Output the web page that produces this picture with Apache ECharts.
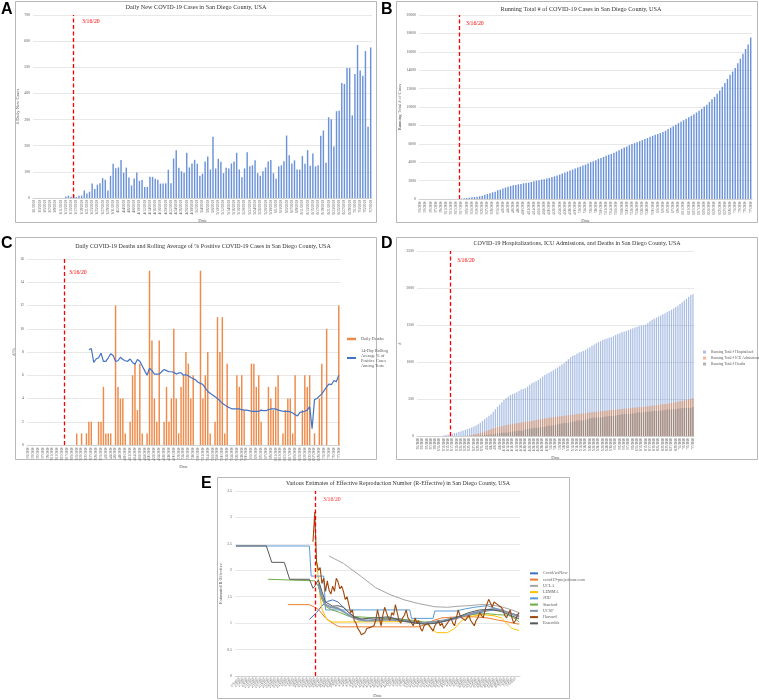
<!DOCTYPE html>
<html>
<head>
<meta charset="utf-8">
<script src="https://cdn.jsdelivr.net/npm/echarts/dist/echarts.min.js"></script>
<style>
  html, body { margin: 0; padding: 0; background: #fff; }
  #main { width: 759px; height: 700px; }
</style>
</head>
<body>
<div id="main"></div>
<script>
// date labels, one per day
function dayLabels(y, m, d, n) {
  var out = [];
  var t = new Date(Date.UTC(y, m, d));
  for (var i = 0; i < n; i++) {
    out.push((t.getUTCMonth() + 1) + '/' + t.getUTCDate() + '/' + t.getUTCFullYear());
    t.setUTCDate(t.getUTCDate() + 1);
  }
  return out;
}

var caseDays = dayLabels(2020, 2, 1, 129);   // 3/1/2020 .. 7/7/2020
var reffDays = dayLabels(2020, 1, 1, 159);   // 2/1/2020 .. 7/8/2020
var markDay = '3/16/2020';

// A: daily new cases
var dailyCases = [0,0,0,0,0,0,0,0,0,0,0,0,
  6,9,5,11,4,9,9,29,17,24,
  55,34,51,56,76,70,29,85,131,114,
  117,145,97,116,78,48,75,98,66,69,
  42,42,81,81,74,70,55,55,56,108,
  56,151,183,116,102,97,173,117,132,146,
  131,85,93,140,159,109,234,113,150,139,
  95,116,113,132,140,173,109,79,113,175,
  121,125,144,95,85,102,117,140,145,95,
  74,121,125,141,239,164,132,144,109,109,
  161,131,183,123,170,121,125,238,258,135,
  309,301,197,332,334,440,436,497,497,316,
  474,585,488,468,562,273,576];

// B: running total of cases
var totalCases = [0,0,0,0,0,0,0,0,0,0,0,0,0,0,0,0,
  40,70,110,145,180,220,255,290,360,470,
  545,620,730,800,945,1020,1130,1240,1345,1420,
  1490,1530,1600,1640,1710,1745,1780,1855,1930,2000,
  2040,2110,2145,2220,2290,2400,2470,2545,2655,2765,
  2870,2980,3090,3200,3310,3420,3525,3635,3745,3855,
  4000,4110,4220,4365,4470,4580,4690,4800,4910,5020,
  5165,5310,5455,5600,5710,5855,5965,6070,6180,6290,
  6400,6510,6620,6765,6870,6980,7055,7165,7270,7420,
  7600,7760,7920,8080,8240,8400,8560,8720,8880,9040,
  9220,9400,9580,9800,10050,10250,10550,10850,11100,11450,
  11800,12200,12600,13050,13500,13850,14250,14750,15250,15800,
  16300,16800,17550];

// C: daily deaths and 14-day rolling % positive
var dailyDeaths = [0,0,0,0,0,0,0,0,0,0,
  0,0,0,0,0,0,0,0,0,0,
  1,0,1,0,1,2,2,0,0,2,
  2,5,1,1,1,0,12,5,4,4,
  1,0,2,6,7,3,7,1,0,1,
  15,9,4,2,9,0,2,5,2,4,
  10,4,1,5,6,8,7,4,6,0,
  0,15,4,6,8,1,0,2,11,8,
  11,1,7,0,0,0,6,5,6,3,
  0,0,7,7,5,6,2,0,0,5,
  4,3,5,6,0,1,3,4,4,1,
  6,0,0,3,6,5,6,0,1,0,
  4,7,0,10,0,0,0,0,12];
var posRateFrom = 25;   // first day with a rolling average
var posRate = [8.2,8.3,7.1,7.4,7.5,
  7.9,7.2,7.2,7.5,7.85,7.7,7.2,7.25,7.55,7.35,
  7.25,7.2,7.4,7.1,6.95,7.35,7.2,6.8,6.4,6.0,
  6.6,6.4,6.1,6.1,6.1,6.3,6.5,6.4,6.3,6.3,
  6.25,6.1,6.2,6.2,6.0,6.05,5.95,5.8,5.7,5.6,
  5.4,5.3,5.2,4.9,4.6,4.45,4.3,4.15,4.0,3.8,
  3.6,3.45,3.3,3.2,3.1,3.1,3.1,3.1,3.05,3.0,
  3.0,2.95,2.9,2.9,2.9,2.9,3.0,2.95,2.95,3.05,
  3.1,3.1,3.1,3.0,2.95,2.9,2.9,2.9,2.85,2.75,
  2.6,2.5,2.8,2.85,2.9,3.0,3.3,1.4,3.9,4.0,
  4.2,4.4,4.7,5.0,5.25,5.2,5.55,5.45,6.0];

// D: running totals
var hospitalized = [0,0,0,0,0,0,0,0,0,0,
  0,0,10,15,20,25,30,40,45,55,
  65,75,85,95,105,117,128,142,158,180,
  205,230,250,272,293,328,362,397,427,457,
  487,510,532,555,567,579,591,609,627,636,
  645,668,690,713,728,743,758,780,803,826,
  841,856,871,889,907,925,945,965,984,1010,
  1038,1065,1080,1095,1110,1128,1139,1150,1164,1182,
  1200,1218,1235,1252,1268,1282,1296,1309,1318,1327,
  1334,1350,1366,1378,1390,1401,1410,1420,1432,1444,
  1456,1466,1476,1484,1492,1498,1505,1528,1550,1570,
  1585,1600,1615,1630,1645,1660,1675,1690,1706,1724,
  1742,1760,1784,1808,1832,1856,1880,1905,1915];
var icuAdmissions = [0,0,0,0,0,0,0,0,0,0,
  0,0,0,0,0,0,0,0,0,0,
  0,0,0,5,10,15,20,28,35,42,
  50,60,70,81,92,101,110,118,125,133,
  140,147,153,158,163,168,172,177,182,186,
  190,195,200,205,210,215,220,226,232,236,
  240,245,250,254,258,262,265,269,272,276,
  280,284,288,292,296,299,302,306,310,313,
  316,320,323,327,330,334,337,341,344,348,
  351,354,357,360,363,366,369,372,375,378,
  381,384,387,390,392,395,397,401,405,409,
  413,417,421,425,429,433,437,441,445,450,
  455,462,468,474,480,487,494,502,510];
var totalDeaths = [0,0,0,0,0,0,0,0,0,0,
  0,0,0,0,0,0,0,0,0,0,
  1,1,2,2,3,5,7,7,7,9,
  11,16,17,18,19,19,31,36,40,44,
  45,45,47,53,60,63,70,71,71,72,
  87,96,100,102,111,111,113,118,120,124,
  134,138,139,144,150,158,165,169,175,175,
  175,190,194,200,208,209,209,211,222,230,
  241,242,249,249,249,249,255,260,266,269,
  269,269,276,283,288,294,296,296,296,301,
  305,308,313,319,319,320,323,327,331,332,
  338,338,338,341,347,352,358,358,359,359,
  363,370,370,380,380,380,380,380,392];

// E: R-effective estimates, [day index from 2/1/2020, value]
var covidActNow = [[41,1.07],[45,1.2],[48,1.33],[51,1.41],[54,1.44],[57,1.4],[60,1.3],[63,1.2],[66,1.12],[70,1.06],[74,1.05],[80,1.08],[86,1.1],[92,1.08],[98,1.04],[105,1.0],[110,1.0],[116,1.03],[122,1.08],[128,1.13],[134,1.18],[140,1.23],[144,1.25],[148,1.24],[152,1.2],[156,1.16],[158,1.15]];
var covid19Proj = [[29,1.35],[41,1.35],[44,1.3],[46,1.26],[50,1.1],[53,1.02],[56,0.96],[58,0.93],[102,0.93],[106,0.98],[110,1.05],[115,1.1],[124,1.12],[133,1.12],[140,1.1],[146,1.06],[152,1.02],[158,0.98]];
var ucla = [[52,2.27],[60,2.13],[70,1.88],[78,1.67],[86,1.54],[94,1.44],[102,1.37],[111,1.31],[118,1.3],[124,1.32],[130,1.33],[136,1.35],[142,1.35],[148,1.31],[153,1.26],[158,1.2]];
var lemma = [[45,2.16],[47,1.5],[48,1.27],[50,1.12],[51,1.06],[54,1.02],[100,1.03],[106,1.0],[109,0.9],[112,0.82],[118,0.82],[122,0.9],[126,1.05],[131,1.13],[138,1.16],[144,1.14],[148,1.1],[151,1.0],[154,0.9],[158,0.86]];
var jhu = [[0,2.46],[41,2.46],[42,1.89],[49,1.89],[50,1.25],[97,1.25],[98,1.09],[110,1.09],[111,1.23],[123,1.23],[128,1.27],[133,1.3],[140,1.33],[145,1.28],[150,1.22],[155,1.17],[158,1.14]];
var stanford = [[18,1.83],[44,1.8],[46,1.7],[48,1.45],[50,1.32],[53,1.26],[58,1.2],[63,1.13],[78,1.1],[90,1.08],[100,1.05],[105,1.02],[112,1.03],[120,1.08],[127,1.14],[133,1.17],[140,1.18],[146,1.16],[152,1.15],[156,1.08],[158,1.02]];
var ucsf = [[46,1.75],[48,1.5],[50,1.35],[53,1.3],[57,1.28],[60,1.22],[64,1.13],[68,1.07],[72,1.05],[78,1.05],[85,1.07],[92,1.05],[98,1.02],[104,1.0],[110,1.02],[116,1.05],[122,1.1],[128,1.15],[134,1.2],[140,1.25],[144,1.27],[148,1.25],[152,1.2],[156,1.15],[158,1.12]];
var harvard = [[43,2.54],[44,3.1],[45,2.16],[46,2.0],[47,2.05],[48,1.75],[49,1.85],[50,1.6],[51,1.8],[52,1.62],[53,1.55],[54,1.7],[55,1.6],[56,1.85],[57,1.78],[58,1.65],[59,1.7],[60,1.6],[61,1.45],[62,1.5],[63,1.35],[64,1.2],[65,1.25],[66,1.05],[67,1.0],[68,0.9],[69,0.85],[70,0.78],[71,0.75],[72,0.82],[73,0.9],[74,0.88],[75,0.92],[76,0.9],[77,0.95],[78,1.05],[79,1.25],[80,1.1],[81,0.95],[82,1.15],[83,1.3],[84,1.2],[85,1.1],[86,1.05],[87,1.2],[88,1.15],[89,1.35],[90,1.2],[91,1.05],[92,1.0],[93,1.1],[94,1.15],[95,1.25],[96,1.1],[97,1.05],[98,1.0],[99,0.95],[100,1.1],[101,1.0],[102,1.05],[103,0.9],[104,0.85],[105,0.95],[106,0.92],[107,1.0],[108,0.95],[109,0.9],[110,0.85],[111,0.95],[112,0.98],[113,1.05],[114,0.95],[115,1.0],[116,0.9],[117,0.95],[118,1.0],[119,1.05],[120,1.1],[121,1.0],[122,0.95],[123,1.1],[124,1.25],[125,1.15],[126,1.1],[127,1.12],[128,1.05],[129,1.1],[130,1.15],[131,1.05],[132,1.0],[133,0.95],[134,1.05],[135,1.1],[136,1.2],[137,1.15],[138,1.1],[139,1.25],[140,1.35],[141,1.45],[142,1.38],[143,1.3],[144,1.4],[145,1.38],[146,1.35],[147,1.32],[148,1.3],[149,1.25],[150,1.15],[151,1.1],[152,1.18],[153,1.25],[154,1.1],[155,1.0],[156,1.05],[157,1.15],[158,1.2]];
var ensemble = [[0,2.46],[17,2.46],[20,2.15],[27,2.15],[30,1.83],[41,1.83],[43,1.66],[44,1.7],[46,1.82],[48,1.6],[50,1.4],[54,1.32],[57,1.33],[60,1.3],[63,1.2],[66,1.12],[70,1.08],[78,1.1],[85,1.12],[92,1.05],[100,1.0],[106,0.98],[112,1.0],[118,1.05],[124,1.12],[130,1.2],[136,1.25],[142,1.26],[148,1.22],[153,1.15],[158,1.08]];

var posName = '14-Day Rolling Average % of Positive Cases Among Tests';
var serif = '"Liberation Serif", "Times New Roman", serif';
var sans = '"Liberation Sans", Arial, sans-serif';
var grey = '#595959';

function catX(grid, data, interval, rotate, nameGap, size) {
  return {
    gridIndex: grid, type: 'category', data: data,
    axisLine: { lineStyle: { color: '#BFBFBF', width: 0.6 } },
    axisTick: { show: false },
    axisLabel: { rotate: rotate, interval: interval, fontSize: size, color: grey, fontFamily: serif, margin: 2 },
    name: 'Date', nameLocation: 'middle', nameGap: nameGap,
    nameTextStyle: { fontSize: 4.6, color: grey, fontFamily: serif }
  };
}
function valY(grid, max, step, name, nameGap) {
  return {
    gridIndex: grid, type: 'value', min: 0, max: max, interval: step,
    axisLine: { show: false }, axisTick: { show: false },
    axisLabel: { fontSize: 3.8, color: grey, fontFamily: serif, margin: 3, formatter: function (v) { return String(v); } },
    splitLine: { lineStyle: { color: '#D9D9D9', width: 0.6 } },
    name: name, nameLocation: 'middle', nameGap: nameGap,
    nameTextStyle: { fontSize: 4.6, color: grey, fontFamily: serif }
  };
}
function marker() {
  return {
    symbol: 'none', silent: true, animation: false, label: { show: false },
    lineStyle: { color: '#FF0000', type: [4, 2.5], width: 1.3 },
    data: [{ xAxis: markDay }]
  };
}
function reff(name, data, color, width) {
  return {
    type: 'line', name: name, xAxisIndex: 4, yAxisIndex: 4, data: data,
    symbol: 'none', lineStyle: { color: color, width: width || 1 }, itemStyle: { color: color }
  };
}
function txt(x, y, text, size, color, align, extra) {
  var st = { text: text, fill: color, fontSize: size, fontFamily: serif, textAlign: align, textVerticalAlign: 'middle' };
  if (extra) for (var k in extra) st[k] = extra[k];
  return { type: 'text', x: x, y: y, silent: true, style: st };
}
function frame(x, y, w, h) {
  return { type: 'rect', silent: true, shape: { x: x, y: y, width: w, height: h }, style: { fill: 'none', stroke: '#A6A6A6', lineWidth: 0.8 } };
}
function letter(x, y, t) {
  return txt(x, y, t, 16, '#000', 'left', { fontFamily: sans, fontWeight: 'bold' });
}

var chart = echarts.init(document.getElementById('main'));
chart.setOption({
  animation: false,
  backgroundColor: '#fff',
  grid: [
    { left: 33, top: 15, width: 339, height: 183 },
    { left: 419, top: 15, width: 333, height: 184 },
    { left: 27, top: 259, width: 313, height: 186 },
    { left: 417, top: 251, width: 277, height: 185 },
    { left: 235, top: 491, width: 285, height: 185 }
  ],
  xAxis: [
    catX(0, caseDays, 1, 90, 18, 3.6),
    catX(1, caseDays, 1, 90, 17, 3.4),
    catX(2, caseDays, 1, 90, 12, 3.4),
    catX(3, caseDays, 1, 90, 17, 3.3),
    catX(4, reffDays, 1, 45, 17, 3.3)
  ],
  yAxis: [
    valY(0, 700, 100, '# Daily New Cases', 11),
    valY(1, 20000, 2000, 'Running Total # of Cases', 16),
    valY(2, 16, 2, '#/%', 9),
    valY(3, 2500, 500, '#', 15),
    valY(4, 3.5, 0.5, 'Estimated R-Effective', 12)
  ],
  legend: [
    {
      data: [{ name: 'Daily Deaths', icon: 'rect' }, { name: posName }],
      orient: 'vertical', left: 341, top: 331.5, itemWidth: 9, itemHeight: 2.5, itemGap: 6.5,
      selectedMode: false,
      textStyle: { fontSize: 4.3, lineHeight: 5, fontFamily: serif, color: grey },
      formatter: function (n) { return n === posName ? '14-Day Rolling\nAverage % of\nPositive Cases\nAmong Tests' : n; }
    },
    {
      data: ['Running Total # Hospitalized', 'Running Total # ICU Admissions', 'Running Total # Deaths'],
      orient: 'vertical', left: 698, top: 344.8, itemWidth: 3, itemHeight: 3, itemGap: 1.5,
      selectedMode: false, icon: 'rect',
      textStyle: { fontSize: 3.6, lineHeight: 4.5, fontFamily: serif, color: grey }
    },
    {
      data: ['CovidActNow', 'covid19-projections.com', 'UCLA', 'LEMMA', 'JHU', 'Stanford', 'UCSF', 'Harvard', 'Ensemble'],
      orient: 'vertical', left: 524, top: 566, itemWidth: 8, itemHeight: 2, itemGap: 1.55,
      selectedMode: false,
      textStyle: { fontSize: 4.2, lineHeight: 4.7, fontFamily: serif, color: grey }
    }
  ],
  series: [
    { type: 'bar', name: 'Daily New Cases', xAxisIndex: 0, yAxisIndex: 0, data: dailyCases, barWidth: '55%',
      itemStyle: { color: '#6C93D8' }, markLine: marker() },
    { type: 'bar', name: 'Running Total Cases', xAxisIndex: 1, yAxisIndex: 1, data: totalCases, barWidth: '55%',
      itemStyle: { color: '#6A92D9' }, markLine: marker() },
    { type: 'bar', name: 'Daily Deaths', xAxisIndex: 2, yAxisIndex: 2, data: dailyDeaths, barWidth: '60%',
      itemStyle: { color: '#EE8A4A' }, markLine: marker() },
    { type: 'line', name: posName, xAxisIndex: 2, yAxisIndex: 2,
      data: new Array(posRateFrom).fill(null).concat(posRate),
      symbol: 'none', lineStyle: { color: '#4472C4', width: 1.2 }, itemStyle: { color: '#4472C4' }, z: 3 },
    { type: 'bar', name: 'Running Total # Hospitalized', xAxisIndex: 3, yAxisIndex: 3, data: hospitalized,
      barWidth: '60%', barGap: '-100%', itemStyle: { color: '#4472C4', opacity: 0.45 }, markLine: marker() },
    { type: 'bar', name: 'Running Total # ICU Admissions', xAxisIndex: 3, yAxisIndex: 3, data: icuAdmissions,
      barWidth: '60%', barGap: '-100%', itemStyle: { color: '#ED7D31', opacity: 0.55 } },
    { type: 'bar', name: 'Running Total # Deaths', xAxisIndex: 3, yAxisIndex: 3, data: totalDeaths,
      barWidth: '60%', barGap: '-100%', itemStyle: { color: '#808080', opacity: 0.6 } },
    reff('CovidActNow', covidActNow, '#4472C4'),
    reff('covid19-projections.com', covid19Proj, '#ED7D31'),
    reff('UCLA', ucla, '#A5A5A5'),
    reff('LEMMA', lemma, '#FFC000'),
    reff('JHU', jhu, '#5B9BD5'),
    reff('Stanford', stanford, '#70AD47'),
    reff('UCSF', ucsf, '#8497B0', 2),
    reff('Harvard', harvard, '#9E480E', 1.1),
    Object.assign(reff('Ensemble', ensemble, '#595959'), { markLine: marker() })
  ],
  graphic: [
    frame(15.5, 1.5, 361, 221),
    frame(396.5, 1.5, 361, 221),
    frame(15.5, 237.5, 361, 222),
    frame(396.5, 237.5, 361, 222),
    frame(217.5, 477.5, 352, 221),
    letter(1, 10, 'A'),
    letter(381, 10, 'B'),
    letter(1, 244, 'C'),
    letter(381, 244, 'D'),
    letter(201, 484, 'E'),
    txt(196, 7, 'Daily New COVID-19 Cases in San Diego County, USA', 6.2, '#333', 'center'),
    txt(581, 9, 'Running Total # of COVID-19 Cases in San Diego County, USA', 6.2, '#333', 'center'),
    txt(203, 246, 'Daily COVID-19 Deaths and Rolling Average of % Positive COVID-19 Cases in San Diego County, USA', 6, '#333', 'center'),
    txt(577, 243, 'COVID-19 Hospitalizations, ICU Admissions, and Deaths in San Diego County, USA', 6, '#333', 'center'),
    txt(398, 483, 'Various Estimates of Effective Reproduction Number (R-Effective) in San Diego County, USA', 5.9, '#333', 'center'),
    txt(82, 21, '3/16/20', 5.8, '#FF0000', 'left'),
    txt(466, 23, '3/16/20', 5.8, '#FF0000', 'left'),
    txt(69, 272, '3/16/20', 5.8, '#FF0000', 'left'),
    txt(457, 260, '3/16/20', 5.8, '#FF0000', 'left'),
    txt(323, 499, '3/16/20', 5.8, '#FF3030', 'left')
  ]
});
</script>
</body>
</html>
